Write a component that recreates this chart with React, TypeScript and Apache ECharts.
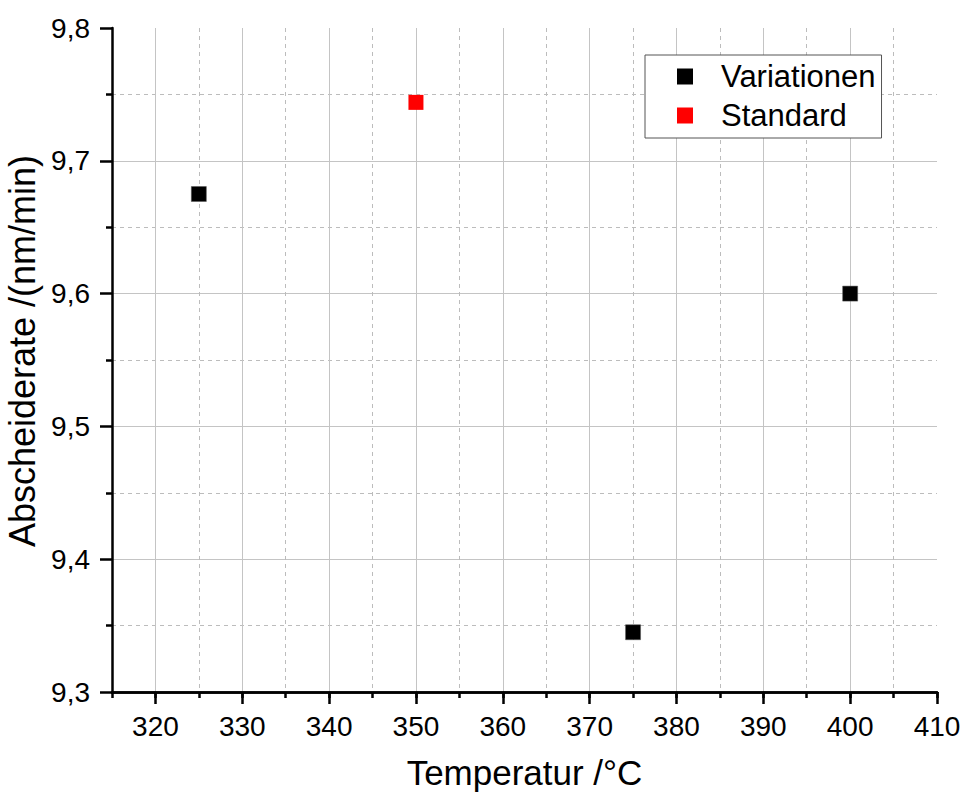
import React, { useEffect, useRef } from "react";
import * as echarts from "echarts";

const xMajorTicks = [320, 330, 340, 350, 360, 370, 380, 390, 400, 410];
const variationenX = [325, 375, 400];
const variationenY = [9.675, 9.345, 9.6];
const standardX = [350];
const standardY = [9.744];
const seriesNames = ["Variationen", "Standard"];

const FONT = "'Liberation Sans', Arial, sans-serif";
const MAJOR = "#c4c4c4";
const MINOR = "#bcbcbc";

export default function App() {
  const ref = useRef<HTMLDivElement>(null);
  useEffect(() => {
    if (!ref.current) return;
    const chart = echarts.init(ref.current, null, { renderer: "svg" });
    const axisLine = { show: true, lineStyle: { color: "#000", width: 2.5 } };
    chart.setOption({
      animation: false,
      backgroundColor: "#fff",
      grid: { left: 112, right: 26, top: 28, bottom: 102, containLabel: false, outerBoundsMode: "none" },
      legend: {
        orient: "vertical",
        left: 645,
        top: 55,
        padding: [6, 6, 7, 32],
        itemGap: 8,
        itemWidth: 16,
        itemHeight: 16,
        icon: "rect",
        itemStyle: { borderWidth: 0 },
        borderColor: "#555",
        borderWidth: 1,
        backgroundColor: "#fff",
        data: seriesNames,
        textStyle: { fontFamily: FONT, fontSize: 31, lineHeight: 31, color: "#000", padding: [0, 0, 0, 23] },
      },
      xAxis: [
        {
          type: "value",
          position: "bottom",
          min: 315,
          max: 410,
          interval: 5,
          axisLine,
          axisTick: { show: true, length: 6, lineStyle: { color: "#000", width: 2.5 } },
          axisLabel: { show: false },
          splitLine: {
            show: true,
            lineStyle: { color: [MINOR, "transparent"], type: [4, 4], width: 1 },
          },
          name: "Temperatur /°C",
          nameLocation: "middle",
          nameGap: 63,
          nameTextStyle: { fontFamily: FONT, fontSize: 35, lineHeight: 35, color: "#000" },
        },
        {
          type: "value",
          position: "bottom",
          min: 315,
          max: 410,
          interval: 5,
          axisLine,
          axisTick: {
            show: true,
            length: 12,
            customValues: xMajorTicks,
            lineStyle: { color: "#000", width: 2.5 },
          },
          axisLabel: {
            show: true,
            customValues: xMajorTicks,
            margin: 20,
            fontFamily: FONT,
            fontSize: 28,
            color: "#000",
          },
          splitLine: {
            show: true,
            lineStyle: {
              color: xMajorTicks.map((v, i) => (i === xMajorTicks.length - 1 ? "transparent" : MAJOR)),
              width: 1,
            },
          },
        },
      ],
      yAxis: {
        type: "value",
        min: 9.3,
        max: 9.8,
        interval: 0.1,
        axisLine,
        axisTick: { show: true, length: 12, lineStyle: { color: "#000", width: 2.5 } },
        minorTick: { show: true, splitNumber: 2, length: 6, lineStyle: { color: "#000", width: 2.5 } },
        axisLabel: {
          margin: 22,
          fontFamily: FONT,
          fontSize: 28,
          color: "#000",
          formatter: (v: number) => v.toFixed(1).replace(".", ","),
        },
        splitLine: {
          show: true,
          lineStyle: { color: [MAJOR, MAJOR, MAJOR, MAJOR, MAJOR, "transparent"], width: 1 },
        },
        minorSplitLine: { show: true, lineStyle: { color: MINOR, type: [4, 4], width: 1 } },
        name: "Abscheiderate /(nm/min)",
        nameLocation: "middle",
        nameGap: 70,
        nameTextStyle: { fontFamily: FONT, fontSize: 36, lineHeight: 36, color: "#000", padding: [0, 0, 0, 18] },
      },
      series: [
        {
          name: seriesNames[0],
          type: "scatter",
          xAxisIndex: 0,
          symbol: "rect",
          symbolSize: 15,
          itemStyle: { color: "#000", opacity: 1, borderColor: "#555", borderWidth: 0.5 },
          data: variationenX.map((x, i) => [x, variationenY[i]]),
          z: 5,
        },
        {
          name: seriesNames[1],
          type: "scatter",
          xAxisIndex: 0,
          symbol: "rect",
          symbolSize: 15,
          itemStyle: { color: "#ff0000", opacity: 1 },
          data: standardX.map((x, i) => [x, standardY[i]]),
          z: 5,
        },
      ],
    });
    return () => chart.dispose();
  }, []);
  return <div ref={ref} style={{ position: "absolute", left: 0, top: 0, width: 963, height: 794 }} />;
}
